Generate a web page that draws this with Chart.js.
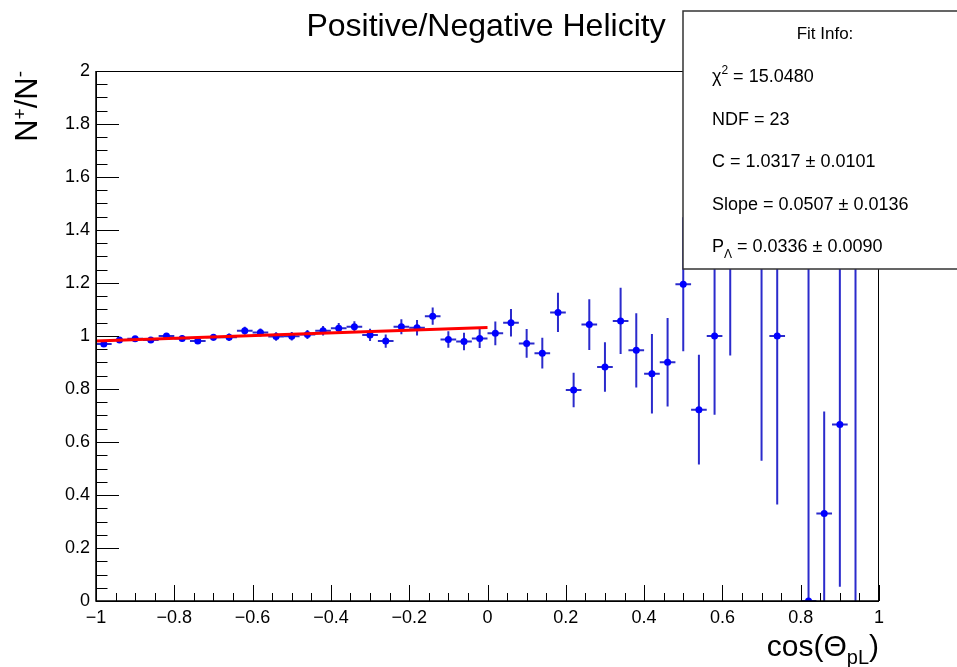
<!DOCTYPE html>
<html>
<head>
  <title>Positive/Negative Helicity</title>
  <script src="https://cdn.jsdelivr.net/npm/chart.js@4.4.2/dist/chart.umd.min.js"></script>
  <style>
    body { margin: 0; background: #fff; }
    canvas { display: block; }
  </style>
</head>
<body>
<canvas id="helicity" width="957" height="667"></canvas>
<script>
// cos(theta_pL) bins: 50 bins of width 0.04
const binCenters = [
  -0.98, -0.94, -0.90, -0.86, -0.82, -0.78, -0.74, -0.70, -0.66, -0.62,
  -0.58, -0.54, -0.50, -0.46, -0.42, -0.38, -0.34, -0.30, -0.26, -0.22,
  -0.18, -0.14, -0.10, -0.06, -0.02,  0.02,  0.06,  0.10,  0.14,  0.18,
   0.22,  0.26,  0.30,  0.34,  0.38,  0.42,  0.46,  0.50,  0.54,  0.58,
   0.62,  0.66,  0.70,  0.74,  0.78,  0.82,  0.86,  0.90,  0.94,  0.98
];
const binHalfWidth = 0.02;

// N+/N- per bin (null = empty bin)
const ratio = [
  0.970, 0.985, 0.990, 0.985, 1.000, 0.991, 0.981, 0.995, 0.995, 1.020,
  1.013, 0.998, 0.999, 1.006, 1.020, 1.029, 1.035, 1.004, 0.981, 1.035,
  1.031, 1.075, 0.987, 0.979, 0.991, 1.010, 1.050, 0.972, 0.935, 1.089,
  0.796, 1.043, 0.883, 1.057, 0.946, 0.858, 0.901, 1.195, 0.722, 1.000,
  1.500, null,  1.500, 1.000, null,  0.000, 0.330, 0.666, 2.000, null
];
const ratioErr = [
  0.009, 0.009, 0.009, 0.010, 0.010, 0.011, 0.011, 0.013, 0.014, 0.015,
  0.015, 0.016, 0.016, 0.017, 0.018, 0.020, 0.021, 0.023, 0.025, 0.028,
  0.029, 0.033, 0.031, 0.033, 0.036, 0.045, 0.052, 0.054, 0.058, 0.074,
  0.065, 0.096, 0.093, 0.125, 0.140, 0.150, 0.167, 0.253, 0.207, 0.297,
  0.574, null,  0.971, 0.636, null,  1.500, 0.385, 0.612, 2.449, null
];

const xTicks = [-1, -0.8, -0.6, -0.4, -0.2, 0, 0.2, 0.4, 0.6, 0.8, 1];
const xTickLabels = ['\u22121', '\u22120.8', '\u22120.6', '\u22120.4', '\u22120.2', '0', '0.2', '0.4', '0.6', '0.8', '1'];
const xMinorStep = 0.05;
const yTicks = [0, 0.2, 0.4, 0.6, 0.8, 1, 1.2, 1.4, 1.6, 1.8, 2];
const yTickLabels = ['0', '0.2', '0.4', '0.6', '0.8', '1', '1.2', '1.4', '1.6', '1.8', '2'];
const yMinorStep = 0.05;

// straight-line fit over the backward hemisphere
const fitC = 1.0317, fitCErr = 0.0101;
const fitSlope = 0.0507, fitSlopeErr = 0.0136;
const fitRange = [-1, 0];
const fitChi2 = '15.0480';
const fitNdf = '23';
const polarization = '0.0336', polarizationErr = '0.0090';

const FONT = '"Liberation Sans", Arial, Helvetica, sans-serif';
const font = size => size + 'px ' + FONT;

// text run with raised / lowered pieces
function drawPieces(ctx, pieces, x, y, align) {
  let total = 0;
  pieces.forEach(p => {
    ctx.font = font(p.size);
    p.w = ctx.measureText(p.text).width;
    total += p.w;
  });
  let cx = align === 'right' ? x - total : align === 'center' ? x - total / 2 : x;
  ctx.textAlign = 'left';
  ctx.textBaseline = 'alphabetic';
  pieces.forEach(p => {
    ctx.font = font(p.size);
    ctx.fillText(p.text, cx, y + (p.dy || 0));
    cx += p.w;
  });
}

const errorBars = {
  id: 'errorBars',
  beforeDatasetsDraw(chart) {
    const { ctx, chartArea: a, scales: { x, y } } = chart;
    ctx.save();
    ctx.beginPath();
    ctx.rect(a.left, a.top, a.right - a.left, a.bottom - a.top);
    ctx.clip();
    ctx.strokeStyle = '#2b2bcc';
    ctx.lineWidth = 2;
    binCenters.forEach((c, i) => {
      if (ratio[i] === null) return;
      const px = x.getPixelForValue(c);
      const py = y.getPixelForValue(ratio[i]);
      ctx.beginPath();
      ctx.moveTo(x.getPixelForValue(c - binHalfWidth), py);
      ctx.lineTo(x.getPixelForValue(c + binHalfWidth), py);
      ctx.moveTo(px, y.getPixelForValue(ratio[i] - ratioErr[i]));
      ctx.lineTo(px, y.getPixelForValue(ratio[i] + ratioErr[i]));
      ctx.stroke();
    });
    ctx.restore();
  }
};

const frameAndText = {
  id: 'frameAndText',
  afterDraw(chart) {
    const { ctx, chartArea: a, scales: { x, y } } = chart;
    ctx.save();

    // frame
    ctx.strokeStyle = '#000';
    ctx.lineWidth = 1;
    ctx.strokeRect(a.left + 0.5, a.top + 0.5, a.right - a.left - 1, a.bottom - a.top);
    ctx.lineWidth = 1.5;
    ctx.beginPath();
    ctx.moveTo(a.left, a.top);
    ctx.lineTo(a.left, a.bottom);
    ctx.lineTo(a.right, a.bottom);
    ctx.stroke();

    // ticks inside the frame
    ctx.lineWidth = 1;
    ctx.beginPath();
    for (let v = x.min; v <= x.max + 1e-9; v += xMinorStep) {
      const major = xTicks.some(t => Math.abs(t - v) < 1e-6);
      const px = Math.round(x.getPixelForValue(v)) + 0.5;
      ctx.moveTo(px, a.bottom);
      ctx.lineTo(px, a.bottom - (major ? 16 : 8));
    }
    for (let v = y.min; v <= y.max + 1e-9; v += yMinorStep) {
      const major = yTicks.some(t => Math.abs(t - v) < 1e-6);
      const py = Math.round(y.getPixelForValue(v)) + 0.5;
      ctx.moveTo(a.left, py);
      ctx.lineTo(a.left + (major ? 23 : 11.5), py);
    }
    ctx.stroke();

    ctx.fillStyle = '#000';
    // title
    ctx.font = font(32);
    ctx.textAlign = 'center';
    ctx.textBaseline = 'alphabetic';
    ctx.fillText('Positive/Negative Helicity', 486, 36);

    // y axis title, rotated, aligned to the top of the axis
    ctx.save();
    ctx.translate(37, a.top);
    ctx.rotate(-Math.PI / 2);
    drawPieces(ctx, [
      { text: 'N', size: 31 },
      { text: '+', size: 19, dy: -11 },
      { text: '/N', size: 31 },
      { text: '-', size: 19, dy: -11 }
    ], 0, 0, 'right');
    ctx.restore();

    // x axis title, aligned to the right end
    drawPieces(ctx, [
      { text: 'cos(\u0398', size: 30 },
      { text: 'pL', size: 20, dy: 8 },
      { text: ')', size: 30 }
    ], a.right, 656, 'right');

    // fit info box
    const bx = 683, by = 11, bw = 290, bh = 258;
    ctx.fillStyle = '#fff';
    ctx.fillRect(bx, by, bw, bh);
    ctx.strokeStyle = '#333';
    ctx.lineWidth = 1.5;
    ctx.strokeRect(bx, by, bw, bh);

    ctx.fillStyle = '#000';
    drawPieces(ctx, [{ text: 'Fit Info:', size: 17 }], 825, 39, 'center');
    const lx = 712;
    drawPieces(ctx, [
      { text: '\u03c7', size: 18 },
      { text: '2', size: 12, dy: -8 },
      { text: ' = ' + fitChi2, size: 18 }
    ], lx, 82, 'left');
    drawPieces(ctx, [{ text: 'NDF = ' + fitNdf, size: 18 }], lx, 124.5, 'left');
    drawPieces(ctx, [{ text: 'C = ' + fitC.toFixed(4) + ' \u00b1 ' + fitCErr.toFixed(4), size: 18 }], lx, 167, 'left');
    drawPieces(ctx, [{ text: 'Slope = ' + fitSlope.toFixed(4) + ' \u00b1 ' + fitSlopeErr.toFixed(4), size: 18 }], lx, 209.5, 'left');
    drawPieces(ctx, [
      { text: 'P', size: 18 },
      { text: '\u039b', size: 12, dy: 6 },
      { text: ' = ' + polarization + ' \u00b1 ' + polarizationErr, size: 18 }
    ], lx, 251.5, 'left');

    ctx.restore();
  }
};

const points = binCenters.map((c, i) => ({ x: c, y: ratio[i] }));
const fitLine = fitRange.map(v => ({ x: v, y: fitC + fitSlope * v }));

new Chart(document.getElementById('helicity'), {
  type: 'scatter',
  data: {
    datasets: [
      {
        label: 'fit',
        type: 'line',
        data: fitLine,
        borderColor: '#ff0000',
        borderWidth: 3,
        pointRadius: 0,
        fill: false,
        order: 0
      },
      {
        label: 'N+/N-',
        data: points,
        pointRadius: 3.5,
        pointBackgroundColor: '#0000ff',
        pointBorderWidth: 0,
        order: 1
      }
    ]
  },
  options: {
    responsive: false,
    animation: false,
    layout: { padding: { top: 71, right: 78, left: 0, bottom: 0 } },
    plugins: {
      legend: { display: false },
      tooltip: { enabled: false }
    },
    scales: {
      x: {
        type: 'linear',
        min: -1,
        max: 1,
        grid: { display: false, drawTicks: false },
        border: { display: false },
        afterBuildTicks: s => { s.ticks = xTicks.map(v => ({ value: v })); },
        afterFit: s => { s.height = 66; },
        ticks: {
          autoSkip: false,
          maxRotation: 0,
          padding: 6,
          color: '#000',
          font: { family: FONT, size: 18 },
          callback: (v, i) => xTickLabels[i]
        }
      },
      y: {
        min: 0,
        max: 2,
        grid: { display: false, drawTicks: false },
        border: { display: false },
        afterBuildTicks: s => { s.ticks = yTicks.map(v => ({ value: v })); },
        afterFit: s => { s.width = 96; },
        ticks: {
          padding: 6,
          color: '#000',
          font: { family: FONT, size: 18 },
          callback: (v, i) => yTickLabels[i]
        }
      }
    }
  },
  plugins: [errorBars, frameAndText]
});
</script>
</body>
</html>
